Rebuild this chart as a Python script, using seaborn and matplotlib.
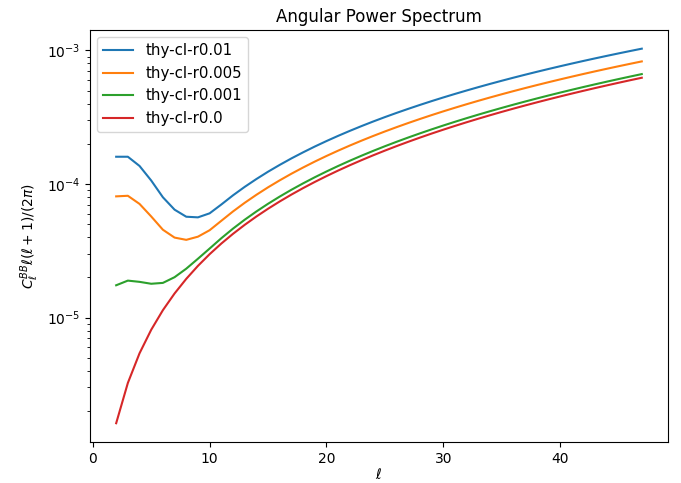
import numpy as np
import pandas as pd
import matplotlib
matplotlib.use("Agg")
import matplotlib.pyplot as plt
import seaborn as sns

# Multipoles
ell = list(range(2, 48))

# D_ell^BB = C_ell^BB ell(ell+1)/(2 pi) for each run
cl_r001 = [
    1.600e-4, 1.600e-4, 1.365e-4, 1.062e-4, 7.957e-5, 6.426e-5, 5.690e-5, 5.629e-5,
    6.033e-5, 7.022e-5, 8.225e-5, 9.514e-5, 1.0888e-4, 1.2357e-4, 1.3901e-4, 1.5541e-4,
    1.7256e-4, 1.9067e-4, 2.0953e-4, 2.2926e-4, 2.4984e-4, 2.7128e-4, 2.9358e-4, 3.1664e-4,
    3.4047e-4, 3.6515e-4, 3.9071e-4, 4.1712e-4, 4.4431e-4, 4.7226e-4, 5.0107e-4, 5.3076e-4,
    5.6121e-4, 5.9244e-4, 6.2453e-4, 6.5740e-4, 6.9104e-4, 7.2556e-4, 7.6085e-4, 7.9691e-4,
    8.3386e-4, 8.7158e-4, 9.1007e-4, 9.4935e-4, 9.8941e-4, 1.0304e-3,
]
cl_r0005 = [
    8.082e-5, 8.164e-5, 7.096e-5, 5.716e-5, 4.547e-5, 3.971e-5, 3.820e-5, 4.034e-5,
    4.508e-5, 5.302e-5, 6.230e-5, 7.229e-5, 8.298e-5, 9.442e-5, 1.0651e-4, 1.1936e-4,
    1.3286e-4, 1.4712e-4, 1.6203e-4, 1.7766e-4, 1.9399e-4, 2.1103e-4, 2.2878e-4, 2.4719e-4,
    2.6627e-4, 2.8605e-4, 3.0656e-4, 3.2777e-4, 3.4966e-4, 3.7221e-4, 3.9547e-4, 4.1946e-4,
    4.4411e-4, 4.6944e-4, 4.9548e-4, 5.2220e-4, 5.4959e-4, 5.7771e-4, 6.0650e-4, 6.3596e-4,
    6.6616e-4, 6.9703e-4, 7.2857e-4, 7.6080e-4, 7.9371e-4, 8.2735e-4,
]
cl_r0001 = [
    1.746e-5, 1.892e-5, 1.852e-5, 1.792e-5, 1.819e-5, 2.007e-5, 2.324e-5, 2.758e-5,
    3.288e-5, 3.926e-5, 4.634e-5, 5.401e-5, 6.226e-5, 7.110e-5, 8.051e-5, 9.052e-5,
    1.0110e-4, 1.1228e-4, 1.2403e-4, 1.3638e-4, 1.4931e-4, 1.6283e-4, 1.7694e-4, 1.9163e-4,
    2.0691e-4, 2.2277e-4, 2.3924e-4, 2.5629e-4, 2.7394e-4, 2.9217e-4, 3.1099e-4, 3.3042e-4,
    3.5043e-4, 3.7104e-4, 3.9224e-4, 4.1404e-4, 4.3643e-4, 4.5943e-4, 4.8302e-4, 5.0720e-4,
    5.3200e-4, 5.5739e-4, 5.8337e-4, 6.0996e-4, 6.3715e-4, 6.6495e-4,
]
cl_r0 = [
    1.620e-6, 3.242e-6, 5.406e-6, 8.110e-6, 1.137e-5, 1.516e-5, 1.950e-5, 2.439e-5,
    2.983e-5, 3.582e-5, 4.235e-5, 4.944e-5, 5.708e-5, 6.527e-5, 7.401e-5, 8.331e-5,
    9.316e-5, 1.0357e-4, 1.1453e-4, 1.2606e-4, 1.3814e-4, 1.5078e-4, 1.6398e-4, 1.7774e-4,
    1.9207e-4, 2.0695e-4, 2.2241e-4, 2.3842e-4, 2.5501e-4, 2.7216e-4, 2.8987e-4, 3.0816e-4,
    3.2701e-4, 3.4644e-4, 3.6643e-4, 3.8700e-4, 4.0814e-4, 4.2986e-4, 4.5215e-4, 4.7501e-4,
    4.9846e-4, 5.2248e-4, 5.4707e-4, 5.7225e-4, 5.9801e-4, 6.2435e-4,
]

labels = ["thy-cl-r0.01", "thy-cl-r0.005", "thy-cl-r0.001", "thy-cl-r0.0"]
series = [cl_r001, cl_r0005, cl_r0001, cl_r0]

frames = [pd.DataFrame({"ell": ell, "Dl": vals, "run": name})
          for name, vals in zip(labels, series)]
df = pd.concat(frames, ignore_index=True)

fig, ax = plt.subplots(figsize=(6.81, 4.83), dpi=100)
fig.subplots_adjust(left=0.132, right=0.981, bottom=0.085, top=0.938)

sns.lineplot(data=df, x="ell", y="Dl", hue="run", hue_order=labels,
             palette=sns.color_palette("tab10", 4), linewidth=1.5, ax=ax)
ax.set_yscale("log")

ax.set_title("Angular Power Spectrum")
ax.set_xlabel(r"$\ell$", labelpad=1)
ax.set_ylabel(r"$C_\ell^{BB}\ell(\ell+1)/(2\pi)$")
ax.set_xticks([0, 10, 20, 30, 40])
ax.legend(loc="upper left", title=None, fontsize=10.8)

fig.savefig("out.png", dpi=100)
